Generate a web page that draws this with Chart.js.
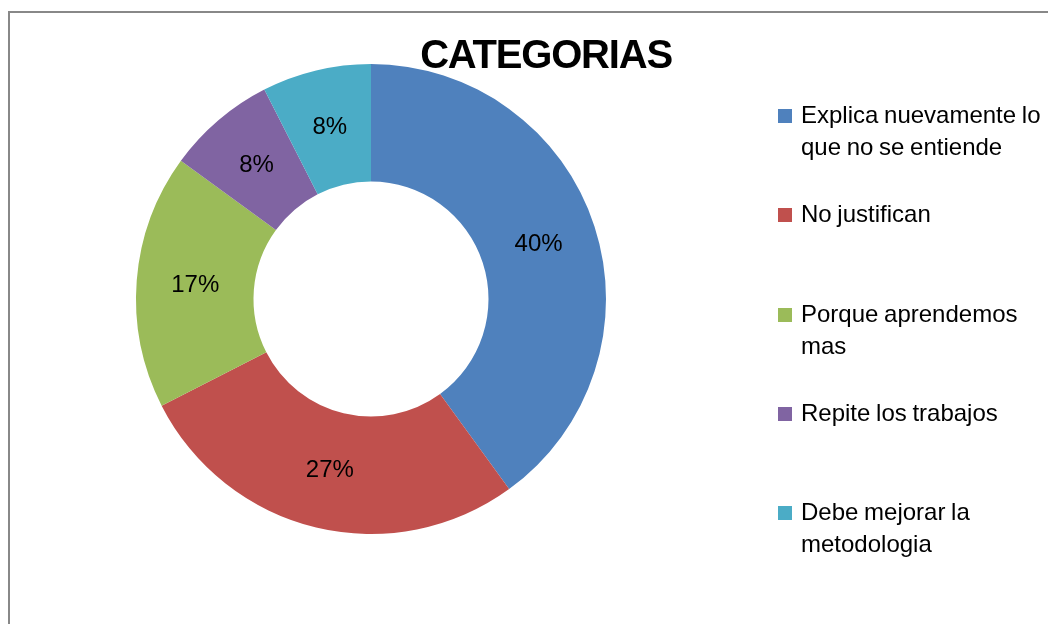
<!DOCTYPE html>
<html>
<head>
<meta charset="utf-8">
<title>CATEGORIAS</title>
<script src="https://cdn.jsdelivr.net/npm/chart.js@4.4.0/dist/chart.umd.min.js"></script>
<style>
    body { margin: 0; background: #fff; font-family: "Liberation Sans", Arial, sans-serif; }
    #wrap { position: relative; width: 1048px; height: 624px; overflow: hidden; background: #fff; }
    #frame { position: absolute; left: 8px; top: 11px; width: 1200px; height: 800px;
             border-left: 2px solid #888; border-top: 2px solid #888; }
    #chartBox { position: absolute; left: 0; top: 0; width: 1048px; height: 624px; }
    #legend { position: absolute; left: 778px; top: 0; width: 270px; height: 624px; }
    .item { position: absolute; left: 0; display: flex; align-items: flex-start; }
    .box { width: 14px; height: 14px; margin-top: 10px; margin-right: 9px; flex: none; }
    .txt { font-size: 24px; line-height: 32px; color: #000; letter-spacing: 0; word-spacing: -1px; white-space: nowrap; }
</style>
</head>
<body>
<div id="wrap">
    <div id="frame"></div>
    <div id="chartBox"><canvas id="pieChart"></canvas></div>
    <div id="legend"></div>
</div>
<script>
// Datos del gráfico
const chartTitle = 'CATEGORIAS';
const categories = [
    ['Explica nuevamente lo', 'que no se entiende'],
    ['No justifican'],
    ['Porque aprendemos', 'mas'],
    ['Repite los trabajos'],
    ['Debe mejorar la', 'metodologia']
];
const counts = [16, 11, 7, 3, 3];
const percentLabels = ['40%', '27%', '17%', '8%', '8%'];
const colors = ['#4F81BD', '#C0504D', '#9BBB59', '#8064A2', '#4BACC6'];

// Etiquetas de porcentaje sobre cada sector
const sliceLabels = {
    id: 'sliceLabels',
    afterDatasetsDraw(chart) {
        const ctx = chart.ctx;
        const meta = chart.getDatasetMeta(0);
        ctx.save();
        ctx.font = '24px "Liberation Sans", Arial, sans-serif';
        ctx.fillStyle = '#000';
        ctx.textAlign = 'center';
        ctx.textBaseline = 'middle';
        meta.data.forEach((arc, i) => {
            const p = arc.tooltipPosition();
            ctx.fillText(percentLabels[i], p.x, p.y);
        });
        ctx.restore();
    }
};

// Título encima del gráfico
const titlePlugin = {
    id: 'bigTitle',
    afterDraw(chart) {
        const ctx = chart.ctx;
        ctx.save();
        ctx.font = 'bold 40px "Liberation Sans", Arial, sans-serif';
        ctx.letterSpacing = '-1.2px';
        ctx.fillStyle = '#000';
        ctx.textAlign = 'center';
        ctx.textBaseline = 'alphabetic';
        ctx.fillText(chartTitle, 546, 68);
        ctx.restore();
    }
};

new Chart(document.getElementById('pieChart'), {
    type: 'doughnut',
    data: {
        labels: categories,
        datasets: [{
            data: counts,
            backgroundColor: colors,
            borderWidth: 0,
            hoverOffset: 0
        }]
    },
    options: {
        responsive: true,
        maintainAspectRatio: false,
        animation: false,
        events: [],
        cutout: '50%',
        layout: { padding: { left: 136, right: 442, top: 64, bottom: 90 } },
        plugins: {
            legend: { display: false },
            tooltip: { enabled: false }
        }
    },
    plugins: [sliceLabels, titlePlugin]
});

// Leyenda a la derecha
const legend = document.getElementById('legend');
categories.forEach((lines, i) => {
    const item = document.createElement('div');
    item.className = 'item';
    item.style.top = (99 + i * 99.3) + 'px';
    const box = document.createElement('div');
    box.className = 'box';
    box.style.background = colors[i];
    const txt = document.createElement('div');
    txt.className = 'txt';
    txt.innerHTML = lines.join('<br>');
    item.appendChild(box);
    item.appendChild(txt);
    legend.appendChild(item);
});
</script>
</body>
</html>
